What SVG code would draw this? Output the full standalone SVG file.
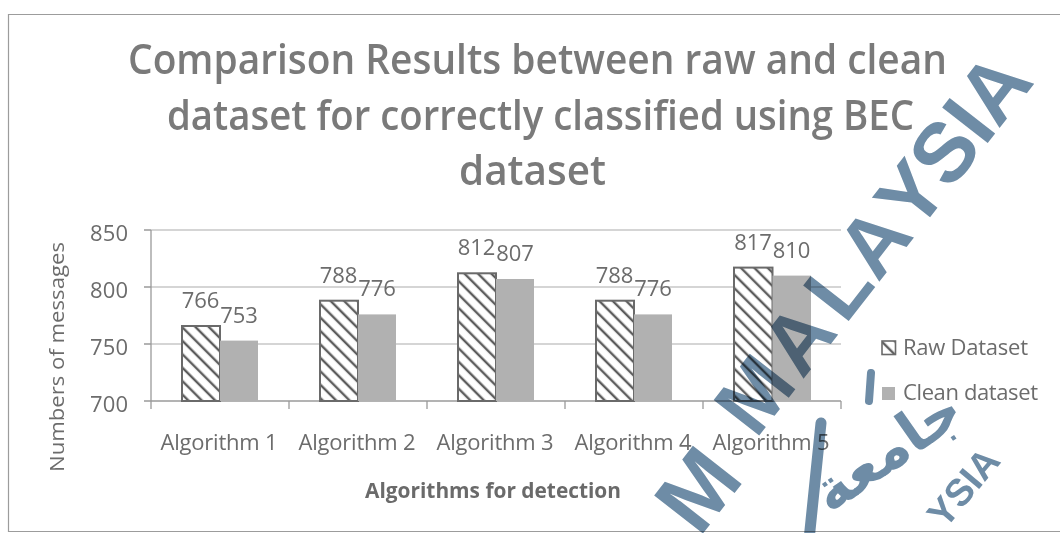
<svg xmlns="http://www.w3.org/2000/svg" width="1060" height="533" viewBox="0 0 1060 533">
  <defs>
    <!-- diagonal hatch used for the raw dataset series -->
    <pattern id="hatch" patternUnits="userSpaceOnUse" width="9.5" height="9.5" patternTransform="rotate(-45)">
      <rect width="9.5" height="9.5" fill="#ffffff"/>
      <line x1="2" y1="0" x2="2" y2="9.5" stroke="#5c5c5c" stroke-width="2.4"/>
    </pattern>
    <style>
      .lbl { font-family: "Open Sans", "Liberation Sans", sans-serif; font-size: 22px; fill: #6c6c6c; }
      .mid { text-anchor: middle; }
      .end { text-anchor: end; }
      .title { font-family: "Open Sans", "Liberation Sans", sans-serif; font-size: 41px; font-weight: 600; fill: #7a7a7a; }
      .axt { font-family: "Open Sans", "Liberation Sans", sans-serif; font-size: 21px; font-weight: 700; fill: #6a6a6a; }
      .grid { stroke: #ababab; stroke-width: 1.2; }
      .axis { stroke: #9a9a9a; stroke-width: 1.3; fill: none; }
      .raw { fill: url(#hatch); stroke: #6a6a6a; stroke-width: 2; }
      .clean { fill: #b1b1b1; }
      .wm { font-family: "Liberation Sans", "DejaVu Sans", sans-serif; font-weight: 700; fill: #6e8ca6; mix-blend-mode: multiply; }
      .wmline { stroke: #6e8ca6; stroke-linecap: round; fill: none; mix-blend-mode: multiply; }
    </style>
  </defs>

  <rect width="1060" height="533" fill="#ffffff"/>

  <!-- chart frame -->
  <g id="frame" fill="none" stroke="#9c9c9c" stroke-width="1.2">
    <polyline points="1060,14.5 8.5,14.5 8.5,531.5 1060,531.5"/>
  </g>

  <!-- title -->
  <g id="title">
    <text class="title" x="128" y="74" textLength="819" lengthAdjust="spacingAndGlyphs">Comparison Results between raw and clean</text>
    <text class="title" x="167" y="130" textLength="747" lengthAdjust="spacingAndGlyphs">dataset for correctly classified using BEC</text>
    <text class="title" x="459" y="185" textLength="147" lengthAdjust="spacingAndGlyphs">dataset</text>
  </g>

  <!-- gridlines and axes -->
  <g id="axes">
    <line class="grid" x1="151" y1="230" x2="841" y2="230"/>
    <line class="grid" x1="151" y1="287" x2="841" y2="287"/>
    <line class="grid" x1="151" y1="344" x2="841" y2="344"/>
    <path class="axis" d="M151,230 V409 M144,230 H151 M144,287 H151 M144,344 H151 M144,401 H841 M289,401 V409 M427,401 V409 M565,401 V409 M703,401 V409 M841,401 V409"/>
    <text class="lbl end" x="128" y="240.5" textLength="38">850</text>
    <text class="lbl end" x="128" y="297.5" textLength="38">800</text>
    <text class="lbl end" x="128" y="354.5" textLength="38">750</text>
    <text class="lbl end" x="128" y="411.5" textLength="38">700</text>
    <text class="lbl mid" x="219" y="450" textLength="117">Algorithm 1</text>
    <text class="lbl mid" x="357" y="450" textLength="117">Algorithm 2</text>
    <text class="lbl mid" x="495" y="450" textLength="117">Algorithm 3</text>
    <text class="lbl mid" x="633" y="450" textLength="117">Algorithm 4</text>
    <text class="lbl mid" x="771" y="450" textLength="117">Algorithm 5</text>
    <text class="axt" x="365" y="498" textLength="256" lengthAdjust="spacingAndGlyphs">Algorithms for detection</text>
    <text class="lbl" transform="translate(64,472) rotate(-90)" x="0" y="0" style="font-size:20px" textLength="230" lengthAdjust="spacingAndGlyphs">Numbers of messages</text>
  </g>

  <!-- bars, one group per algorithm -->
  <g id="alg1">
    <rect class="raw" x="182" y="326" width="38" height="75"/>
    <rect class="clean" x="220" y="340.6" width="38" height="60.4"/>
    <text class="lbl mid" x="200.5" y="308">766</text>
    <text class="lbl mid" x="239" y="323">753</text>
  </g>
  <g id="alg2">
    <rect class="raw" x="320" y="300.7" width="38" height="100.3"/>
    <rect class="clean" x="358" y="314.4" width="38" height="86.6"/>
    <text class="lbl mid" x="338.5" y="283">788</text>
    <text class="lbl mid" x="377" y="296">776</text>
  </g>
  <g id="alg3">
    <rect class="raw" x="458" y="273.3" width="38" height="127.7"/>
    <rect class="clean" x="496" y="279" width="38" height="122"/>
    <text class="lbl mid" x="476.5" y="255">812</text>
    <text class="lbl mid" x="515" y="261">807</text>
  </g>
  <g id="alg4">
    <rect class="raw" x="596" y="300.7" width="38" height="100.3"/>
    <rect class="clean" x="634" y="314.4" width="38" height="86.6"/>
    <text class="lbl mid" x="614.5" y="283">788</text>
    <text class="lbl mid" x="653" y="296">776</text>
  </g>
  <g id="alg5">
    <rect class="raw" x="734" y="267.6" width="38.5" height="133.4"/>
    <rect class="clean" x="772.5" y="275.6" width="38.5" height="125.4"/>
    <text class="lbl mid" x="753" y="250">817</text>
    <text class="lbl mid" x="791.5" y="258">810</text>
  </g>

  <!-- legend -->
  <g id="legend">
    <rect class="raw" x="882" y="341" width="13.5" height="13.5" style="stroke-width:1.6"/>
    <text class="lbl" x="903" y="355" textLength="125">Raw Dataset</text>
    <rect class="clean" x="882" y="387" width="13" height="13"/>
    <text class="lbl" x="903" y="400" textLength="135">Clean dataset</text>
  </g>

  <!-- university watermark stamped across the page -->
  <g id="watermark">
    <text class="wm" transform="translate(768.7,423.5) rotate(-52)" y="0" x="-21 54.7 124.4 177.7 240 294 350.3 372.7" style="font-size:84px">MALAYSIA</text>
    <text class="wm" transform="translate(697,489) rotate(-52)" x="0" y="32" text-anchor="middle" style="font-size:90px">M</text>
    <text class="wm" transform="translate(963,487) rotate(-50)" x="0" y="13.6" text-anchor="middle" style="font-size:38px">YSIA</text>
    <text class="wm" transform="translate(888,452) rotate(-35)" x="0" y="18" text-anchor="middle" style="font-family:'DejaVu Sans',sans-serif;font-size:58px">جامعة</text>
    <line class="wmline" x1="821" y1="423" x2="809" y2="540" stroke-width="11"/>
    <line class="wmline" x1="871" y1="373" x2="869" y2="401" stroke-width="8"/>
  </g>
</svg>
